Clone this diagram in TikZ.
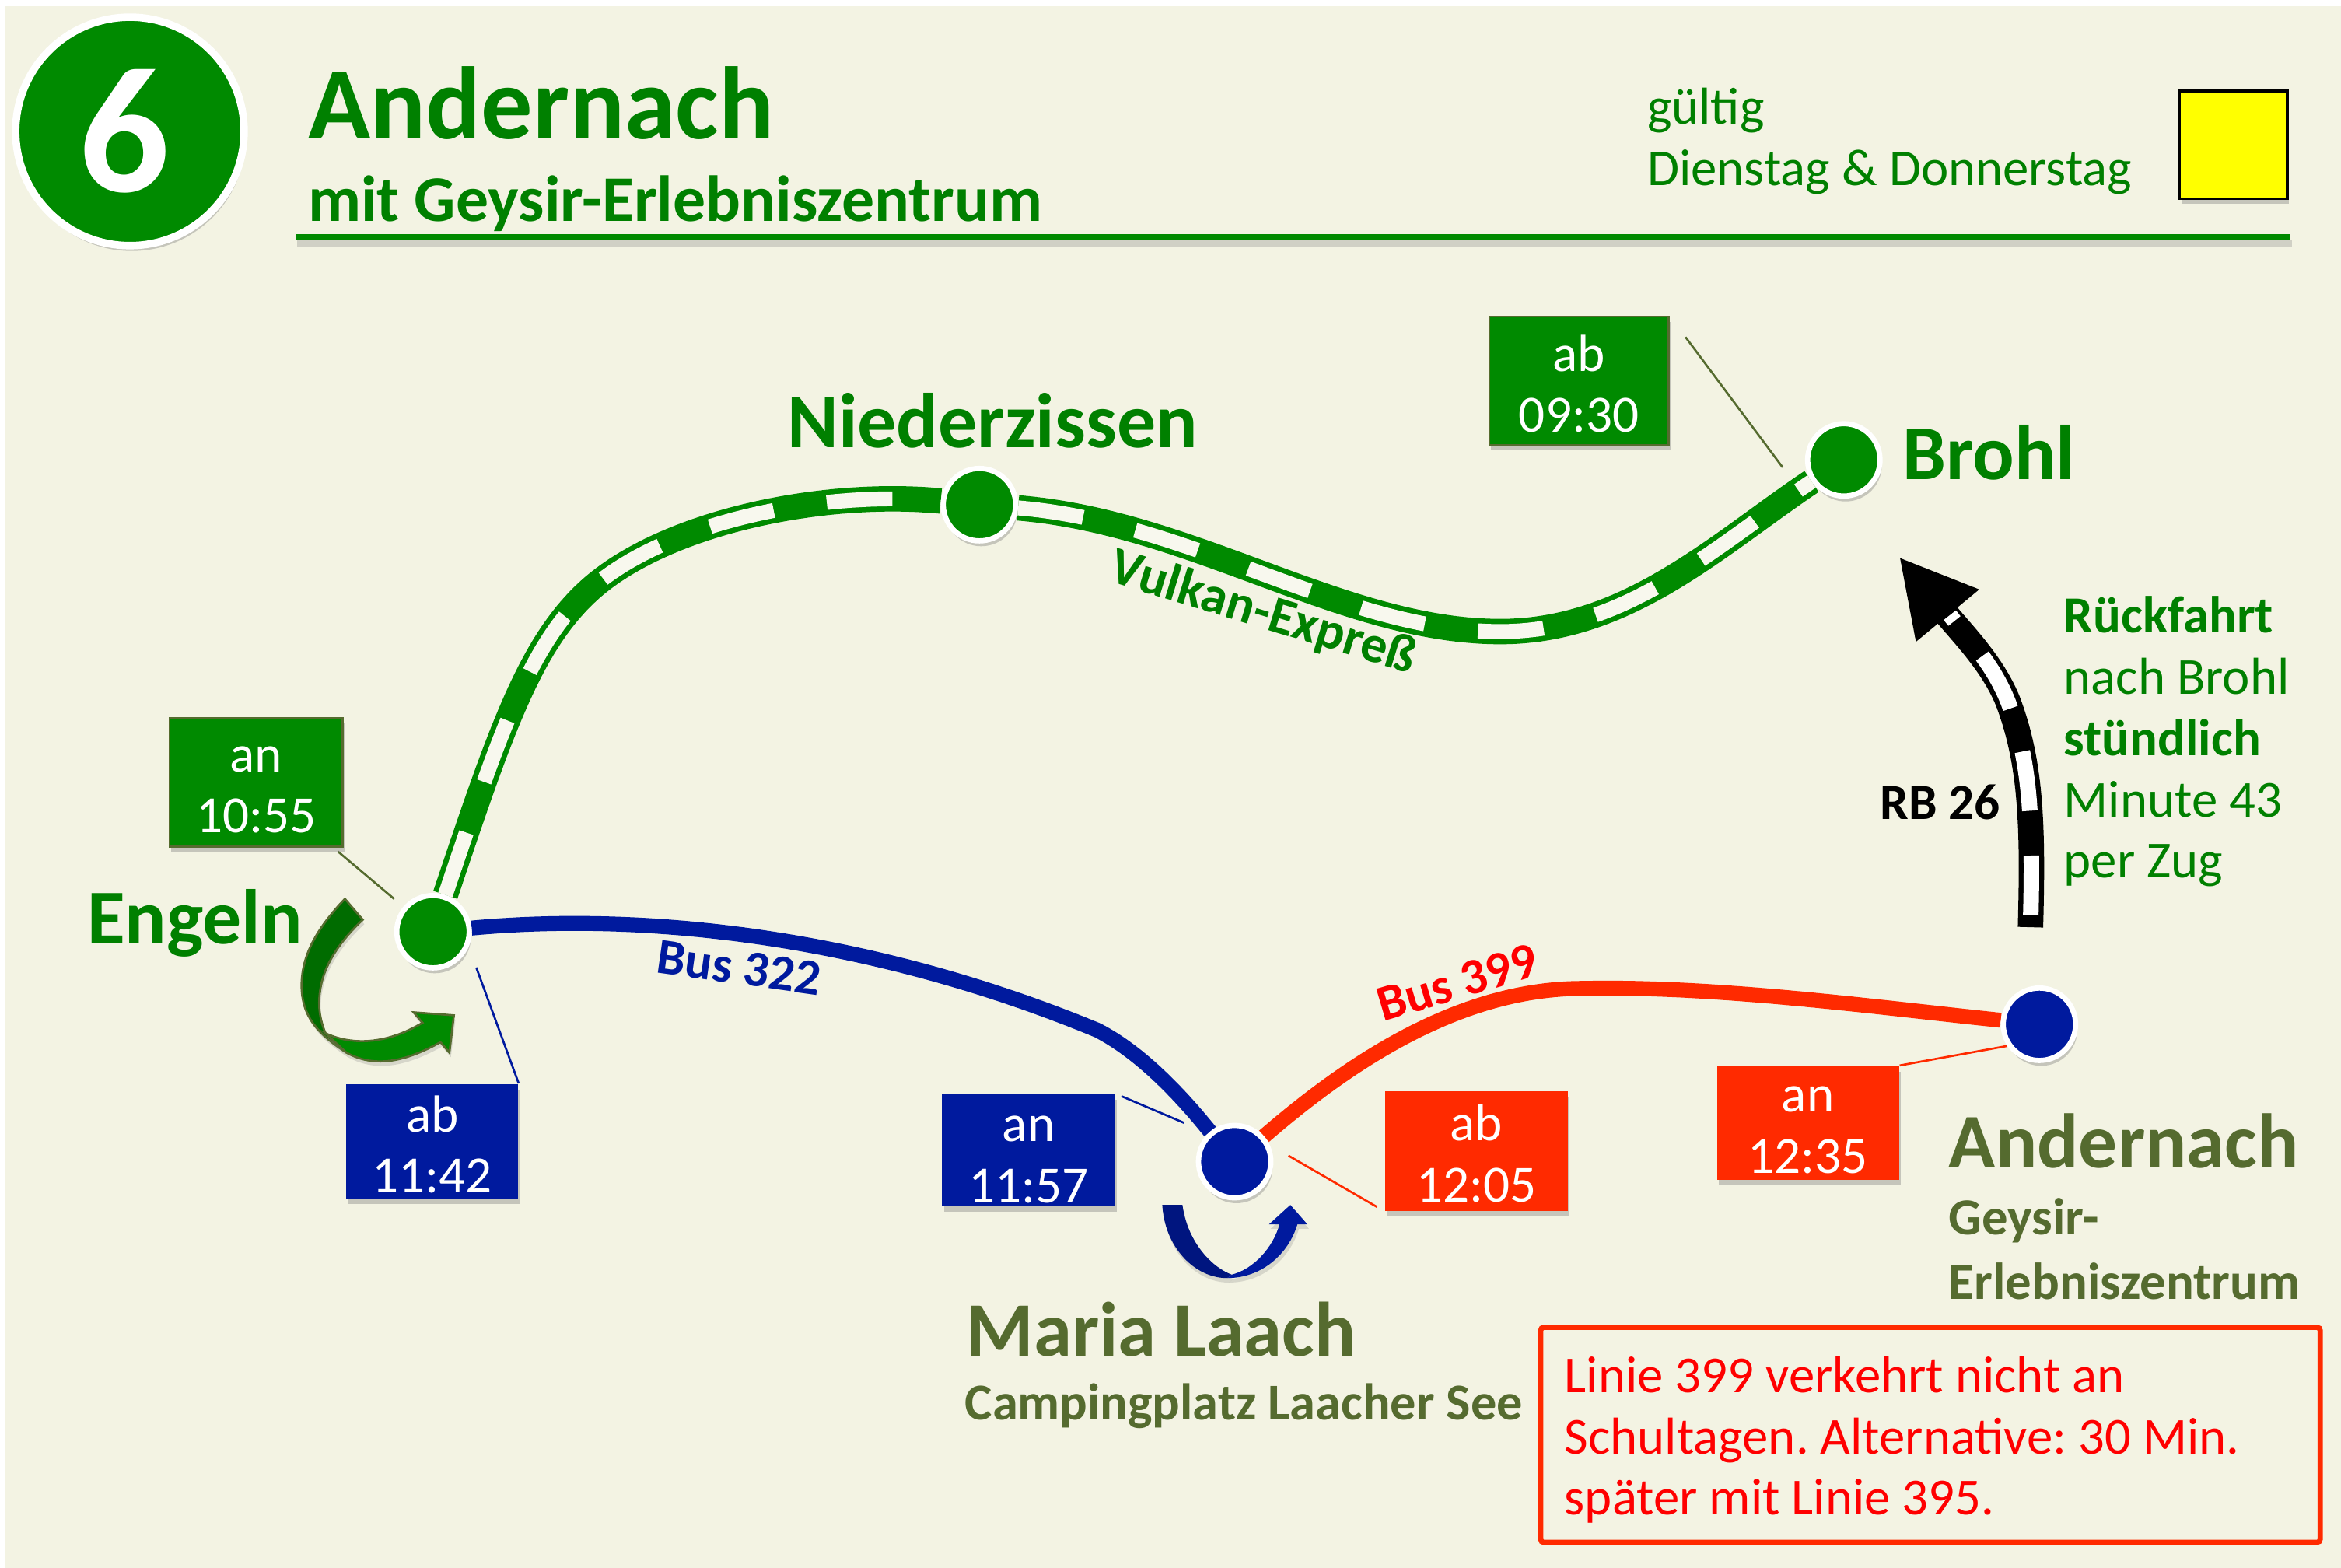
\documentclass[tikz,border=0pt]{standalone}
\usepackage{fontspec}
\setmainfont{Carlito}
\usetikzlibrary{arrows.meta, shadows, backgrounds}
\definecolor{RailGreen}{HTML}{008A00}
\definecolor{TextGreen}{HTML}{008000}
\definecolor{DarkGreen}{HTML}{006C00}
\definecolor{PlaceOlive}{HTML}{556B2F}
\definecolor{BusBlue}{HTML}{001A9E}
\definecolor{DarkBlue}{HTML}{00157F}
\definecolor{BusRed}{HTML}{FF2A00}
\definecolor{PageCream}{HTML}{F3F3E3}
\definecolor{SleeperCream}{HTML}{F8F8EE}
\definecolor{DayYellow}{HTML}{FFFF00}
\tikzset{
  softshadow/.style={drop shadow={opacity=0.4, shadow xshift=0.6pt, shadow yshift=-1.8pt}},
  stop/.style={circle, draw=white, line width=1.75pt, minimum size=24.25pt, inner sep=0pt, softshadow},
  timebox/.style={rectangle, fill=#1, inner sep=0pt, softshadow},
  timetext/.style={text=white, inner sep=0pt, align=center, font=\fontsize{17.5}{20.5}\selectfont},
  place/.style={anchor=base west, inner sep=0pt, font=\fontsize{#1}{#1}\selectfont\bfseries},
  plain/.style={anchor=base west, inner sep=0pt, font=\fontsize{17.4}{17.4}\selectfont},
  linename/.style={inner sep=0pt, font=\fontsize{17}{17}\selectfont\bfseries},
  lineshadow/.style={preaction={draw=black, opacity=0.25, transform canvas={yshift=-1.5pt}}},
  railway/.style={draw=RailGreen, line width=8.5pt, lineshadow,
    postaction={draw=SleeperCream, line width=5pt, dash pattern=on 22pt off 18pt}},
  busline/.style={line width=5pt, lineshadow},
  leader/.style={line width=0.7pt}
}
\begin{document}
\begin{tikzpicture}[x=0.5pt, y=-0.5pt, >=Stealth]
  \useasboundingbox (0,0) rectangle (1568,1050);

  % stops
  \node[stop, fill=RailGreen] (brohl) at (1235,308) {};
  \node[stop, fill=RailGreen] (niederzissen) at (656,338) {};
  \node[stop, fill=RailGreen] (engeln) at (290,624) {};
  \node[stop, fill=BusBlue] (marialaach) at (827,778) {};
  \node[stop, fill=BusBlue] (andernach) at (1366,686) {};

  % header
  \node[circle, fill=RailGreen, draw=white, line width=2.5pt, minimum size=76.5pt, inner sep=0pt,
    softshadow, text=white, font=\fontsize{60}{60}\selectfont\bfseries] (badge) at (87,88) {\hspace*{-3.5pt}6};
  \node[place=34.5, text=TextGreen] (title) at (206,93) {Andernach};
  \node[place=21.8, text=TextGreen] (subtitle) at (206,148) {mit Geysir-Erlebniszentrum};
  \node[plain, text=TextGreen] (gueltig) at (1103,83) {gültig};
  \node[plain, text=TextGreen] (tage) at (1103,124) {Dienstag \& Donnerstag};
  \node[rectangle, fill=DayYellow, draw=black, line width=0.9pt, minimum size=36pt, inner sep=0pt, softshadow] (tagfarbe) at (1496,97) {};
  \fill[RailGreen, drop shadow={opacity=0.3, shadow xshift=0.6pt, shadow yshift=-2pt}] (198,157) rectangle (1534,161);

  % time boxes
  \node[timebox=RailGreen, draw=PlaceOlive, line width=0.7pt, minimum width=58pt, minimum height=43pt,
    label={[timetext, yshift=-2.5pt]center:{an\\10:55}}] (ankunftengeln) at (171.5,524) {};
  \node[timebox=RailGreen, draw=PlaceOlive, line width=0.7pt, minimum width=60pt, minimum height=43pt,
    label={[timetext, yshift=-1pt]center:{ab\\09:30}}] (abbrohl) at (1057.5,255) {};
  \node[timebox=BusBlue, minimum width=57.5pt, minimum height=38.5pt,
    label={[timetext, yshift=-1pt]center:{ab\\11:42}}] (abengeln) at (289.5,764.5) {};
  \node[timebox=BusBlue, minimum width=58pt, minimum height=37.5pt,
    label={[timetext, yshift=-3pt]center:{an\\11:57}}] (ankunftlaach) at (689,770.5) {};
  \node[timebox=BusRed, minimum width=61pt, minimum height=40pt,
    label={[timetext, yshift=-0.8pt]center:{ab\\12:05}}] (ablaach) at (989,771) {};
  \node[timebox=BusRed, minimum width=61pt, minimum height=38pt,
    label={[timetext, yshift=-2.5pt]center:{an\\12:35}}] (ankunftandernach) at (1211,752) {};

  % places
  \node[place=26, text=TextGreen] (lblniederzissen) at (527,300) {Niederzissen};
  \node[place=26, text=TextGreen] (lblbrohl) at (1274,321) {Brohl};
  \node[place=26, text=TextGreen] (lblengeln) at (58,632) {Engeln};
  \node[place=25.8, text=PlaceOlive] (lbllaach) at (647,908) {Maria Laach};
  \node[place=17.3, text=PlaceOlive] (lblcamping) at (646,951) {Campingplatz Laacher See};
  \node[place=25.9, text=PlaceOlive] (lblandernach) at (1305,782) {Andernach};
  \node[place=17.4, text=PlaceOlive] (lblgeysir) at (1305,827) {Geysir-};
  \node[place=17.4, text=PlaceOlive] (lblzentrum) at (1305,870) {Erlebniszentrum};

  % line names
  \node[linename, text=TextGreen, rotate=-17, font=\fontsize{17.6}{17.6}\selectfont\bfseries] (vulkan) at (846,411) {Vulkan-Expreß};
  \node[linename, text=BusBlue, rotate=-8] (bus322) at (495,648) {Bus 322};
  \node[linename, text=red, rotate=16.5] (bus399) at (976,658) {Bus 399};
  \node[linename, anchor=base west, text=black] (rb26) at (1259,549) {RB 26};

  % return trip
  \node[place=17.4, text=TextGreen] (rueck1) at (1382,424) {Rückfahrt};
  \node[plain, text=TextGreen] (rueck2) at (1382,465) {nach Brohl};
  \node[place=17.4, text=TextGreen] (rueck3) at (1382,506) {stündlich};
  \node[plain, text=TextGreen] (rueck4) at (1382,547) {Minute 43};
  \node[plain, text=TextGreen] (rueck5) at (1382,588) {per Zug};

  % note
  \node[rectangle, draw=BusRed, line width=1.75pt, rounded corners=1pt, minimum width=261pt, minimum height=72pt,
    inner sep=0pt, text width=245pt, align=flush left, text=red, font=\fontsize{17.4}{20.5}\selectfont\frenchspacing,
    execute at begin node={\rule{0pt}{15.5pt}}] (hinweis) at (1293,961)
    {Linie 399 verkehrt nicht an\\Schultagen. Alternative: 30 Min.\\später mit Linie 395.};

  % free ends of leaders and bends
  \coordinate (blick) at (1194,313);
  \coordinate (engelnblick) at (319,648);
  \coordinate (laachblick) at (793,752);
  \coordinate (laachrot) at (863,774);
  \coordinate (busknick) at (735,690);
  \coordinate (bergpunkt) at (395,395);
  \coordinate (talpunkt) at (1005,423);
  \coordinate (rotknick) at (1060,662);
  \coordinate (rbfuss) at (1360,621);
  \coordinate (rbbogen) at (1345,470);
  \coordinate (rbspitze) at (1272,373);
  \coordinate (rbende) at (1306,412);

  \begin{scope}[on background layer]
    \fill[white] (0,0) rectangle (1568,1050);
    \fill[PageCream] (3,4) rectangle (1568,1050);

    % train lines
    \draw[railway] (engeln) .. controls (335,490) and (355,431) .. (bergpunkt)
      .. controls (445,350) and (550,328) .. (niederzissen);
    \draw[railway] (niederzissen) .. controls (800,350) and (900,423) .. (talpunkt)
      .. controls (1090,423) and (1150,365) .. (brohl);

    % bus lines
    \draw[busline, BusBlue] (engeln) .. controls (440,610) and (590,630) .. (busknick)
      .. controls (770,708) and (800,745) .. (marialaach);
    \draw[busline, BusRed] (marialaach) .. controls (900,715) and (975,662) .. (rotknick)
      .. controls (1150,660) and (1260,675) .. (andernach);

    % RB 26
    \draw[-{Triangle[length=25.5pt, width=25.5pt]}, line width=8.5pt, black] (rbfuss) .. controls (1362,550) and (1360,510) .. (rbbogen)
      .. controls (1335,445) and (1315,425) .. (rbspitze);
    \draw[white, line width=5.2pt, dash pattern=on 20pt off 15pt, dash phase=31pt] (rbfuss) .. controls (1362,550) and (1360,510) .. (rbbogen)
      .. controls (1335,445) and (1320,430) .. (rbende);

    % leaders
    \draw[leader, PlaceOlive, shorten <=2pt, shorten >=4pt] (ankunftengeln) -- (engeln);
    \draw[leader, PlaceOlive, shorten <=9pt] (abbrohl.north east) -- (blick);
    \draw[leader, BusBlue] (abengeln.north east) -- (engelnblick);
    \draw[leader, BusBlue, shorten <=2pt] (ankunftlaach.north east) -- (laachblick);
    \draw[leader, BusRed, shorten <=3pt] (ablaach.south west) -- (laachrot);
    \draw[leader, BusRed] (ankunftandernach.north east) -- (andernach.214);
  \end{scope}

  % turn arrow at Engeln
  \filldraw[fill=DarkGreen, draw=PlaceOlive, line width=0.7pt, drop shadow={opacity=0.25, shadow xshift=0.5pt, shadow yshift=-1.5pt}]
    (231,602) .. controls (212,622) and (202,640) .. (202,660) .. controls (202,680) and (212,692) .. (232,705)
    -- (218,692) .. controls (213,680) and (213,670) .. (215,660) .. controls (218,645) and (228,630) .. (243,616) -- cycle;
  \filldraw[fill=RailGreen, draw=PlaceOlive, line width=0.7pt, drop shadow={opacity=0.25, shadow xshift=0.5pt, shadow yshift=-1.5pt}]
    (218,692) .. controls (235,700) and (258,700) .. (283,685) -- (277,678) -- (304,680) -- (301,705) -- (295,698)
    .. controls (270,712) and (250,715) .. (232,705) -- cycle;

  % turn arrow at Maria Laach
  \fill[DarkBlue, drop shadow={opacity=0.25, shadow xshift=0.5pt, shadow yshift=-1.5pt}]
    (778.5,807) .. controls (780,835) and (800,856) .. (822,856) -- (825,853.7) .. controls (810,848) and (795,830) .. (792,807) -- cycle;
  \fill[BusBlue, drop shadow={opacity=0.25, shadow xshift=0.5pt, shadow yshift=-1.5pt}]
    (825,853.7) .. controls (840,850) and (853,835) .. (857,820) -- (850,820) -- (864.3,807) -- (875.7,820) -- (869,820)
    .. controls (863,840) and (845,856) .. (822,856) -- cycle;
\end{tikzpicture}
\end{document}
